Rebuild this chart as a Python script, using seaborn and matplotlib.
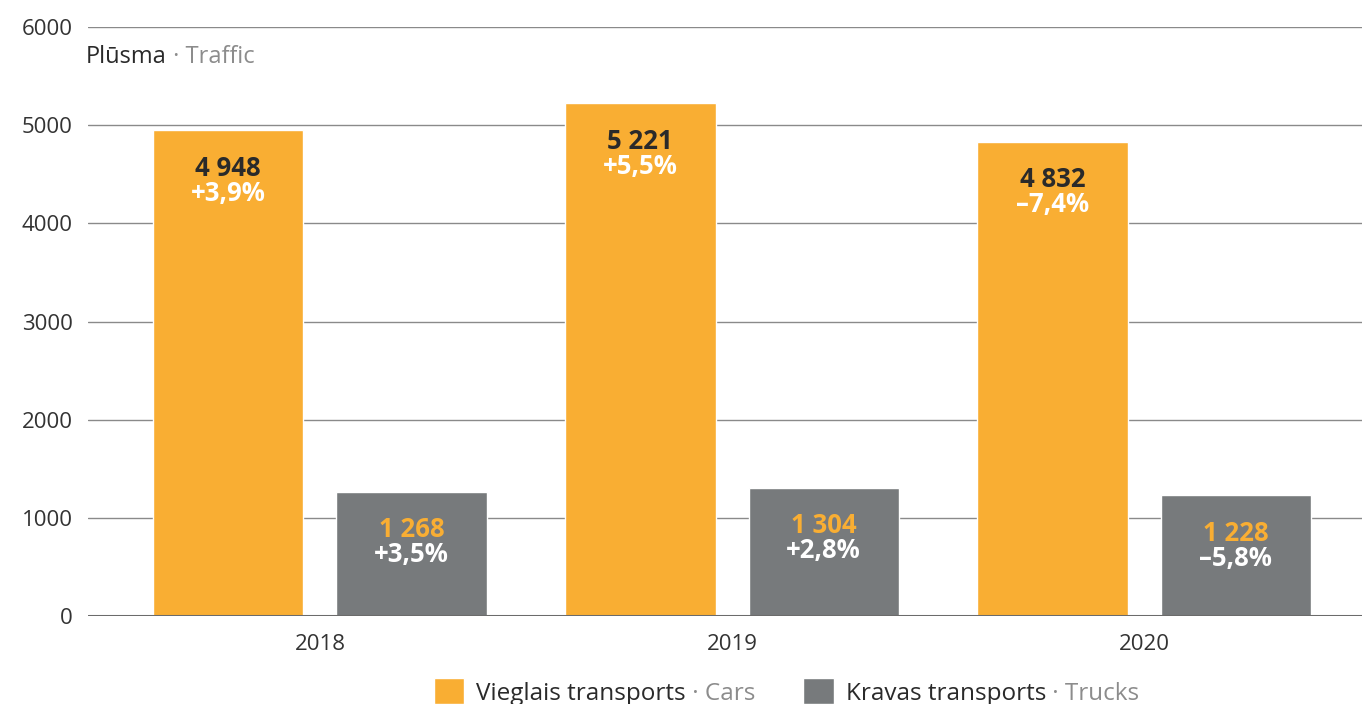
import matplotlib
matplotlib.use("Agg")
import matplotlib.pyplot as plt
import numpy as np
import pandas as pd
import seaborn as sns

years = ["2018", "2019", "2020"]
cars = [4948, 5221, 4832]
trucks = [1268, 1304, 1228]
cars_change = [3.9, 5.5, -7.4]
trucks_change = [3.5, 2.8, -5.8]
series = ["Vieglais transports", "Kravas transports"]
series_en = ["Cars", "Trucks"]
y_ticks = [0, 1000, 2000, 3000, 4000, 5000, 6000]

ORANGE = "#F9AE33"
GREY = "#777A7C"
DARK = "#2a2a2a"
LIGHT = "#8c8c8c"

df = pd.DataFrame({
    "year": years * 2,
    "type": [series[0]] * 3 + [series[1]] * 3,
    "value": cars + trucks,
})

sns.set_style("white")
plt.rcParams["font.family"] = ["Open Sans", "DejaVu Sans"]

fig = plt.figure(figsize=(13.62, 7.04), dpi=100)
ax = fig.add_axes([88 / 1362, 1 - 616 / 704, 1 - 88 / 1362, (616 - 27) / 704])

sns.barplot(data=df, x="year", y="value", hue="type", order=years,
            hue_order=series, palette=[ORANGE, GREY], width=0.89, gap=0.18,
            saturation=1, ax=ax, legend=False, zorder=3)

ax.set_ylim(0, 6000)
ax.set_xlim(-0.563, 2.529)
ax.set_yticks(y_ticks)
ax.set_yticklabels([str(t) for t in y_ticks])
for t in y_ticks[1:]:
    ax.axhline(t, color="#8a8a8a", lw=1, zorder=1)
ax.axhline(0, color="#6b6b6b", lw=2.2, zorder=4)
for s in ax.spines.values():
    s.set_visible(False)
ax.tick_params(axis="y", length=0, pad=11, labelsize=16, labelcolor="#333333")
ax.tick_params(axis="x", length=0, pad=13, labelsize=16, labelcolor="#333333")
ax.set_xlabel("")
ax.set_ylabel("")


def fmt_val(v):
    return f"{v:,}".replace(",", " ")


def fmt_pct(p):
    return f"{p:+.1f}%".replace(".", ",").replace("-", "\u2013")


changes = [cars_change, trucks_change]
val_colors = [DARK, ORANGE]
for ci, cont in enumerate(ax.containers):
    for bar, ch in zip(cont, changes[ci]):
        cx = bar.get_x() + bar.get_width() / 2
        top = bar.get_height()
        ax.annotate(fmt_val(int(round(top))), (cx, top), xytext=(0, -38),
                    textcoords="offset pixels", ha="center", va="center",
                    fontsize=18.5, fontweight="bold", color=val_colors[ci], zorder=5)
        ax.annotate(fmt_pct(ch), (cx, top), xytext=(0, -63),
                    textcoords="offset pixels", ha="center", va="center",
                    fontsize=18.5, fontweight="bold", color="white", zorder=5)

LEG_FS = 17.5
handles = [ax.containers[0][0], ax.containers[1][0]]


def make_legend(colspace):
    lg = ax.legend(handles=handles, labels=series,
                   loc="center", bbox_to_anchor=(740 / 1362, 12 / 704),
                   bbox_transform=fig.transFigure, ncol=2, frameon=False,
                   fontsize=LEG_FS, handlelength=1.25, handleheight=1.25,
                   handletextpad=0.5, columnspacing=colspace)
    for t in lg.get_texts():
        t.set_color(DARK)
    return lg


# title: dark Latvian part, grey English part after it
title_y = 1 - 63 / 704
title = fig.text(86 / 1362, title_y, "Pl\u016bsma", fontsize=17,
                 color=DARK, ha="left", va="baseline")

fig.canvas.draw()
renderer = fig.canvas.get_renderer()
inv = fig.transFigure.inverted()
px = fig.dpi / 72.0

tb = title.get_window_extent(renderer)
tx, _ = inv.transform((tb.x1, tb.y0))
fig.text(tx, title_y, " \u00b7 Traffic", fontsize=17, color=LIGHT,
         ha="left", va="baseline")

suffixes = [fig.text(0, 0, " \u00b7 " + en, fontsize=LEG_FS, color=LIGHT,
                     ha="left", va="bottom") for en in series_en]
w0 = suffixes[0].get_window_extent(renderer).width
leg = make_legend((w0 + 48) / (LEG_FS * px))

fig.canvas.draw()
for t, s in zip(leg.get_texts(), suffixes):
    bb = t.get_window_extent(renderer)
    x1, y0 = inv.transform((bb.x1, bb.y0))
    s.set_position((x1, y0))

fig.savefig("out.png", dpi=100)
